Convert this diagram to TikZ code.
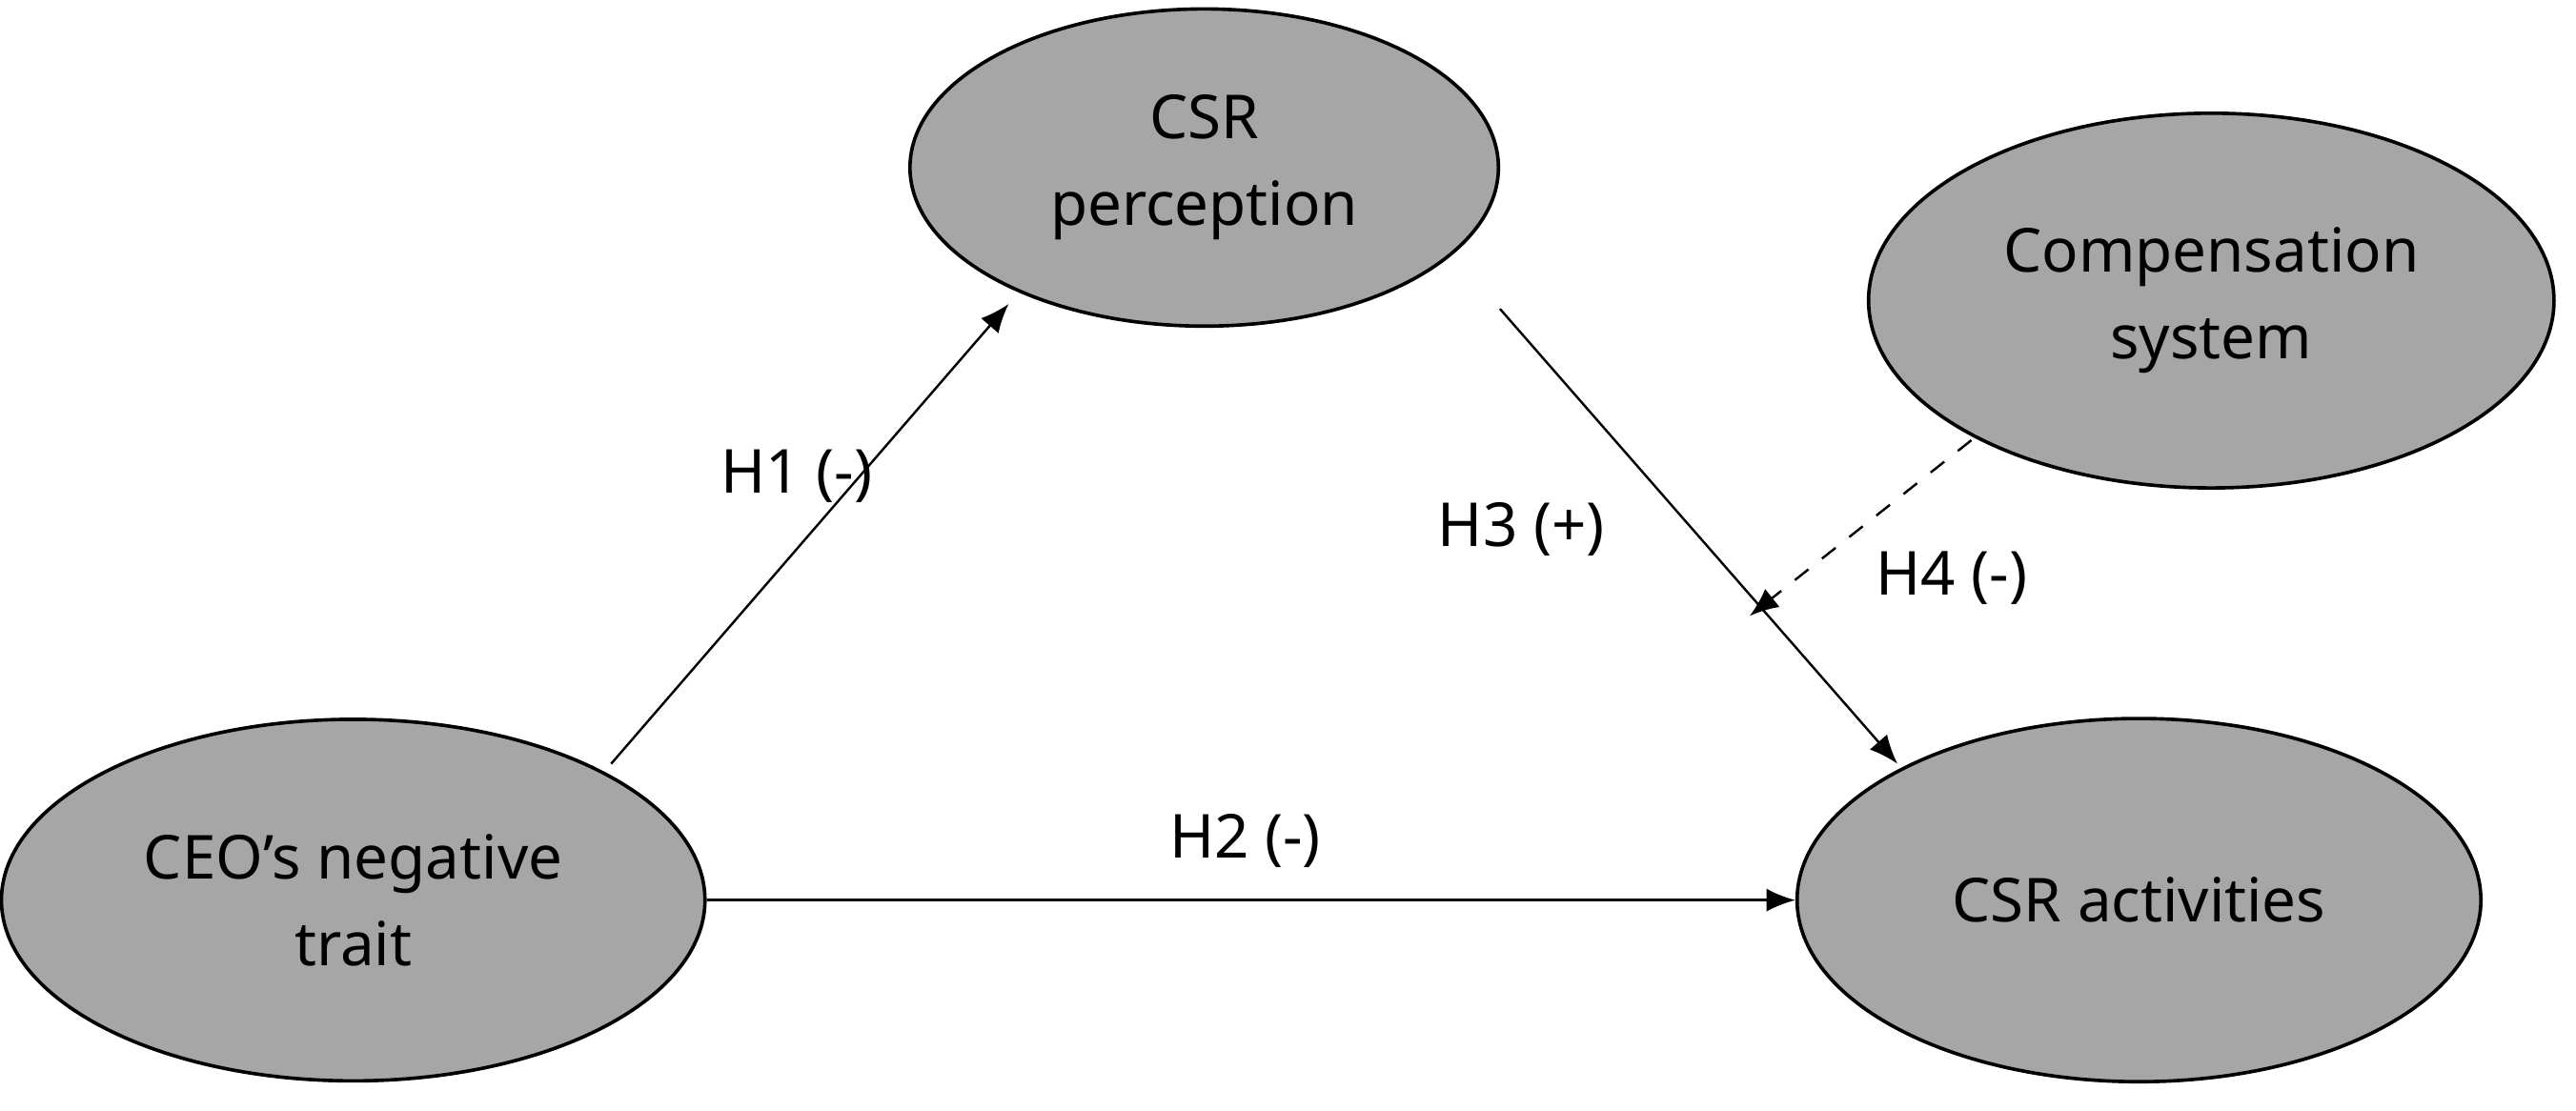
\documentclass[tikz,border=0pt]{standalone}
\usepackage{fontspec}
\setmainfont{Noto Sans}
\usetikzlibrary{shapes.geometric,arrows.meta}
\definecolor{ellfill}{HTML}{A6A6A6}
\begin{document}
\begin{tikzpicture}[x=0.01cm,y=-0.01cm,
  ell/.style={ellipse,draw=black,line width=0.6pt,fill=ellfill,inner sep=0pt,align=center,font=\fontsize{10.5}{15}\selectfont},
  arr/.style={-{Latex[length=5pt,width=4pt]},line width=0.4pt},
  lab/.style={font=\fontsize{10.5}{12}\selectfont}]
\useasboundingbox (0,0) rectangle (1568,676);
\node[ell,minimum width=4.28cm,minimum height=2.20cm] (ceo) at (215,548) {CEO's negative\\trait};
\node[ell,minimum width=3.58cm,minimum height=1.93cm] (perc) at (733,102) {CSR\\perception};
\node[ell,minimum width=4.17cm,minimum height=2.28cm] (comp) at (1346,183) {Compensation\\system};
\node[ell,minimum width=4.16cm,minimum height=2.21cm] (act) at (1302,548) {CSR activities};
\coordinate (h1s) at (372,465);
\coordinate (h1e) at (614,185);
\draw[arr] (h1s) -- (h1e);
\draw[arr] (ceo.east) -- (act.west);
\coordinate (h3s) at (913,188);
\coordinate (h3e) at (1155,465);
\draw[arr] (h3s) -- (h3e);
\coordinate (h4s) at (1200,268);
\coordinate (h4e) at (1065,375);
\draw[arr,dashed] (h4s) -- (h4e);
\node[lab] (l1) at (485,290) {H1 (-)};
\node[lab] (l2) at (758,512) {H2 (-)};
\node[lab] (l3) at (926,322) {H3 (+)};
\node[lab] (l4) at (1188,352) {H4 (-)};
\end{tikzpicture}
\end{document}
